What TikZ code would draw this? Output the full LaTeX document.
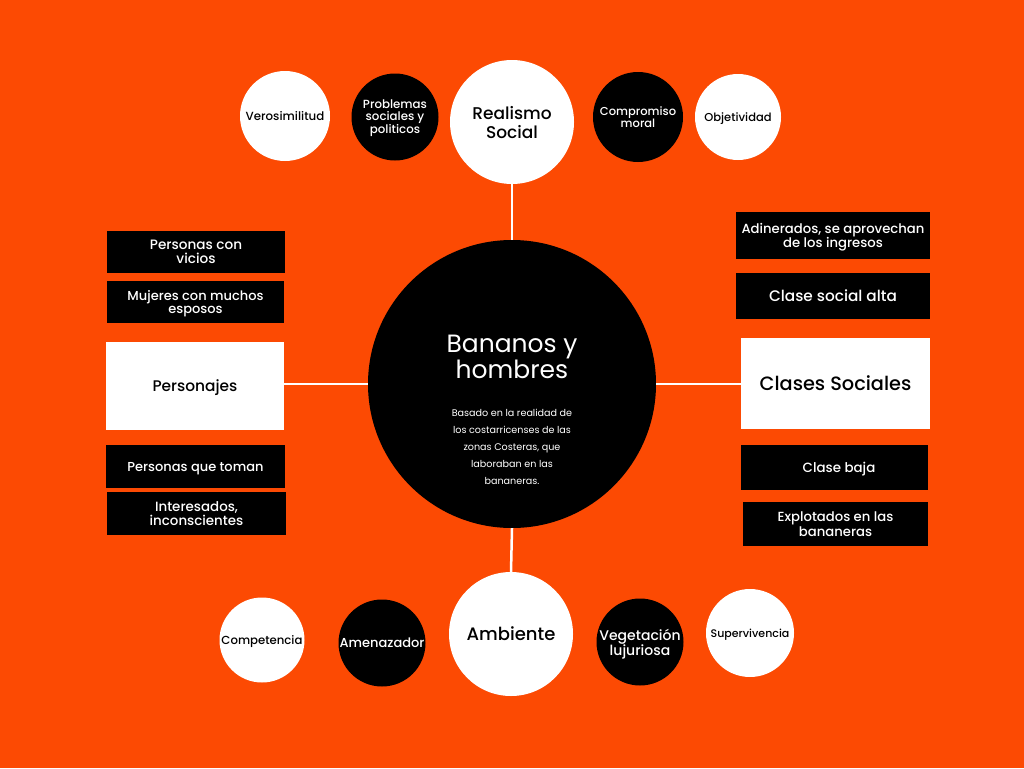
\documentclass[tikz,border=0pt]{standalone}
\usepackage{fontspec}
\setmainfont{Poppins}
\newfontfamily\med{Poppins Medium}
\definecolor{bg}{RGB}{252,74,3}
\begin{document}
\begin{tikzpicture}[x=1pt,y=-1pt,
  wcirc/.style={circle,fill=white,text=black,align=center,inner sep=0pt},
  bcirc/.style={circle,fill=black,text=white,align=center,inner sep=0pt},
  bbox/.style={rectangle,fill=black,text=white,align=center,inner sep=0pt},
  wbox/.style={rectangle,fill=white,text=black,align=center,inner sep=0pt},
  fs/.style 2 args={font=\med\fontsize{#1}{#2}\selectfont,text depth=0pt},
  link/.style={white,line width=2.5pt}]
\fill[bg] (0,0) rectangle (1024,768);
\useasboundingbox (0,0) rectangle (1024,768);

% central topic
\node[bcirc,minimum size=288pt] (main) at (512,384) {};
\node[text=white,align=center,font=\fontsize{25}{26}\selectfont] (title) at (512,357) {Bananos y\\hombres};
\node[text=white,align=center,font=\fontsize{9.6}{17}\selectfont] (desc) at (512,447)
  {Basado en la realidad de\\los costarricenses de las\\zonas Costeras, que\\laboraban en las\\bananeras.};

% top branch
\node[wcirc,minimum size=124pt,fs={17}{19}] (real) at (512,122) {Realismo\\Social};
\node[wcirc,minimum size=90pt,fs={11.8}{12}] (vero) at (285,116) {Verosimilitud};
\node[bcirc,minimum size=87pt,fs={11.8}{12}] (prob) at (395,117) {Problemas\\sociales y\\politicos};
\node[bcirc,minimum size=90pt,fs={11.5}{12}] (comp) at (638,117) {Compromiso\\moral};
\node[wcirc,minimum size=86pt,fs={11.5}{12}] (obje) at (738,117) {Objetividad};

% bottom branch
\node[wcirc,minimum size=124pt,fs={18}{19}] (amb) at (511,634) {Ambiente};
\node[wcirc,minimum size=85pt,fs={11.7}{12}] (compe) at (262,640) {Competencia};
\node[bcirc,minimum size=87pt,fs={13}{14}] (amen) at (382,643) {Amenazador};
\node[bcirc,minimum size=87pt,fs={14}{15}] (vege) at (640,642) {Vegetación\\lujuriosa};
\node[wcirc,minimum size=88pt,fs={11}{12}] (super) at (750,633) {Supervivencia};

% left branch
\node[bbox,minimum width=178pt,minimum height=42pt,fs={13.6}{14}] (vicios) at (196,252) {Personas con\\vicios};
\node[bbox,minimum width=177pt,minimum height=42pt,fs={13}{13}] (mujeres) at (195.5,302) {Mujeres con muchos\\esposos};
\node[wbox,minimum width=178pt,minimum height=88pt,fs={15.4}{16}] (pers) at (195,386) {Personajes};
\node[bbox,minimum width=179pt,minimum height=43pt,fs={13}{14}] (toman) at (195.5,466.5) {Personas que toman};
\node[bbox,minimum width=179pt,minimum height=43pt,fs={13.4}{13.5}] (inter) at (196.5,513.5) {Interesados,\\inconscientes};

% right branch
\node[bbox,minimum width=194pt,minimum height=47pt,fs={13.2}{13}] (adin) at (833,235.5) {Adinerados, se aprovechan\\de los ingresos};
\node[bbox,minimum width=194pt,minimum height=46pt,fs={15.3}{16}] (alta) at (833,296) {Clase social alta};
\node[wbox,minimum width=189pt,minimum height=91pt,fs={19.3}{20}] (clases) at (835.5,383.5) {Clases Sociales};
\node[bbox,minimum width=187pt,minimum height=45pt] (baja) at (834.5,467.5) {};
\node[text=white,fs={13.4}{15}] (bajat) at (839,467.5) {Clase baja};
\node[bbox,minimum width=185pt,minimum height=44pt,fs={13.2}{13}] (explo) at (835.5,524) {Explotados en las\\bananeras};

% connectors
\draw[link] (main.north) -- (real.south);
\draw[link] (main.south) -- (amb.north);
\draw[link] (main.west) -- (pers.east |- main.west);
\draw[link] (main.east) -- (clases.west |- main.east);
\end{tikzpicture}
\end{document}
